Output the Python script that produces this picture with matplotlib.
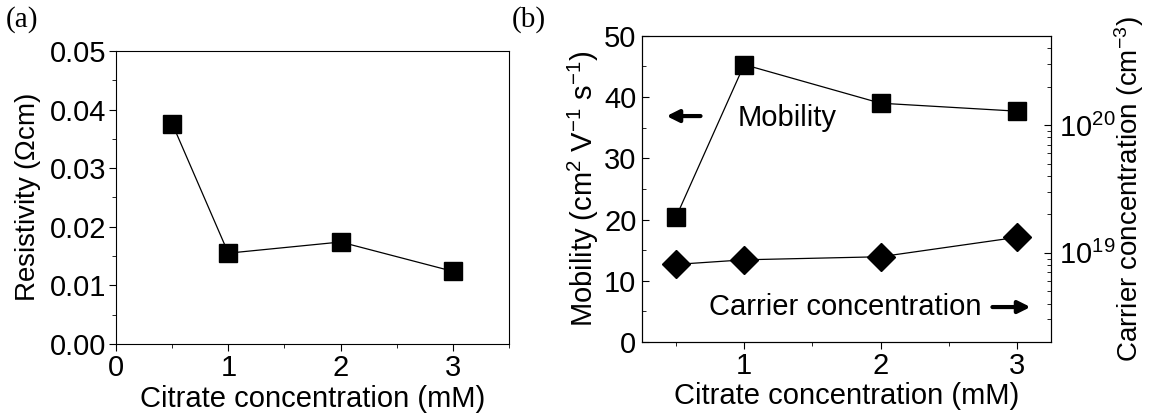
import matplotlib
matplotlib.use("Agg")
from matplotlib import pyplot as plt
from matplotlib.ticker import MultipleLocator, FixedLocator

plt.rcParams["font.family"] = ["Liberation Sans", "DejaVu Sans"]
plt.rcParams["mathtext.default"] = "regular"
plt.rcParams["font.size"] = 21

# data
conc = [0.5, 1, 2, 3]
resistivity = [0.0376, 0.0155, 0.0174, 0.0124]
mobility = [20.4, 45.3, 39.0, 37.7]
carrier = [8.1e18, 8.8e18, 9.3e18, 1.32e19]

fig = plt.figure(figsize=(11.49, 4.17), dpi=100)

# (a) resistivity
ax1 = fig.add_axes([0.101, 0.175, 0.342, 0.703])
ax1.plot(conc, resistivity, color="black", lw=0.9, marker="s", ms=12.5, mfc="black")
ax1.set_xlim(0, 3.5)
ax1.set_ylim(0, 0.05)
ax1.xaxis.set_major_locator(FixedLocator([0, 1, 2, 3]))
ax1.xaxis.set_minor_locator(FixedLocator([0.5, 1.5, 2.5, 3.5]))
ax1.yaxis.set_major_locator(MultipleLocator(0.01))
ax1.yaxis.set_minor_locator(MultipleLocator(0.005))
ax1.yaxis.set_major_formatter(plt.FormatStrFormatter("%.2f"))
ax1.tick_params(which="both", direction="out", top=False, right=False, pad=2)
ax1.tick_params(which="major", length=5)
ax1.tick_params(which="minor", length=3)
ax1.set_xlabel("Citrate concentration (mM)", labelpad=2)
ax1.set_ylabel("Resistivity ($\\Omega$cm)", fontsize=20, labelpad=5)
fig.text(0.005, 0.985, "(a)", family="Liberation Serif", fontsize=21, va="top")

# (b) mobility + carrier concentration
ax2 = fig.add_axes([0.5587, 0.18, 0.356, 0.734])
ax2.plot(conc, mobility, color="black", lw=0.9, marker="s", ms=12.5, mfc="black")
ax2.set_xlim(0.25, 3.25)
ax2.set_ylim(0, 50)
ax2.xaxis.set_major_locator(FixedLocator([1, 2, 3]))
ax2.xaxis.set_minor_locator(FixedLocator([0.5, 1.5, 2.5]))
ax2.yaxis.set_major_locator(MultipleLocator(10))
ax2.yaxis.set_minor_locator(MultipleLocator(5))
ax2.tick_params(axis="x", which="both", direction="out", top=False, pad=2)
ax2.tick_params(axis="y", which="both", direction="in", right=False, pad=4)
ax2.tick_params(which="major", length=5)
ax2.tick_params(which="minor", length=3)
ax2.set_xlabel("Citrate concentration (mM)", labelpad=2)
ax2.set_ylabel("Mobility (cm$^{2}$ V$^{-1}$ s$^{-1}$)", labelpad=2)

ax3 = ax2.twinx()
ax3.plot(conc, carrier, color="black", lw=0.9, marker="D", ms=14, mfc="black")
ax3.set_yscale("log")
ax3.set_ylim(2e18, 5e20)
ax3.tick_params(which="both", direction="in", pad=6)
ax3.tick_params(which="major", length=5)
ax3.tick_params(which="minor", length=3)
ax3.set_ylabel("Carrier concentration (cm$^{-3}$)", fontsize=20)
ax3.yaxis.set_label_coords(1.15, 0.5)

ax2.annotate("", xy=(0.41, 36.9), xytext=(0.70, 36.9),
             arrowprops=dict(arrowstyle="-|>", color="black", lw=3, mutation_scale=18))
ax2.text(0.95, 36.6, "Mobility", va="center", ha="left")
ax2.text(0.74, 5.7, "Carrier concentration", va="center", ha="left")
ax2.annotate("", xy=(3.12, 5.7), xytext=(2.8, 5.7),
             arrowprops=dict(arrowstyle="-|>", color="black", lw=3, mutation_scale=18))
fig.text(0.445, 0.985, "(b)", family="Liberation Serif", fontsize=21, va="top")

fig.savefig("out.png", dpi=100)
